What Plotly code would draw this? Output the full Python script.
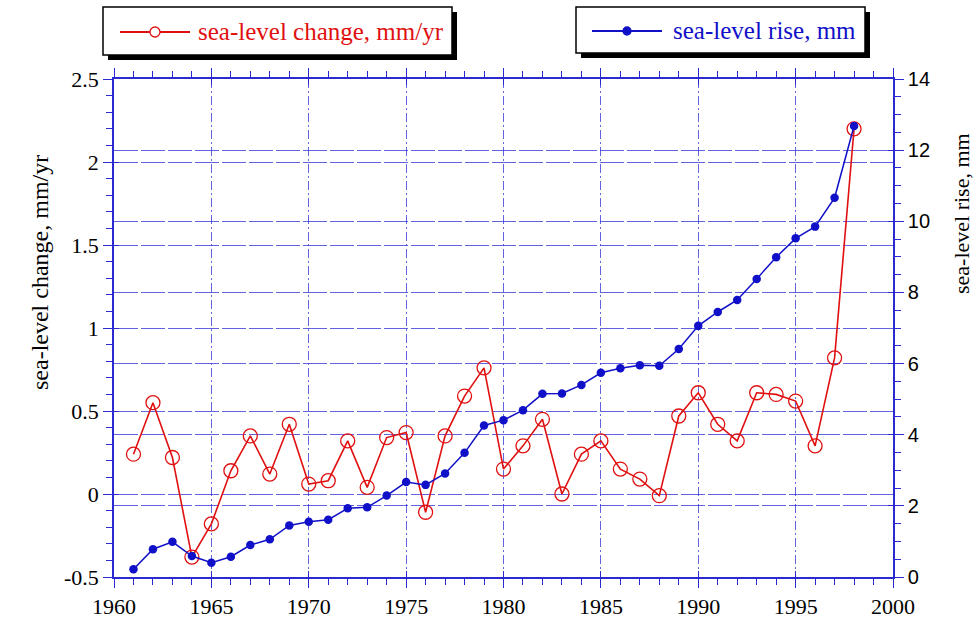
import plotly.graph_objects as go

# ---- data -------------------------------------------------------------
years = list(range(1961, 1999))

change_mm_yr = [0.24, 0.55, 0.22, -0.38, -0.18, 0.14, 0.35, 0.12, 0.42, 0.06,
                0.08, 0.32, 0.04, 0.34, 0.37, -0.11, 0.35, 0.59, 0.76, 0.15,
                0.29, 0.45, 0.00, 0.24, 0.32, 0.15, 0.09, -0.01, 0.47, 0.61,
                0.42, 0.32, 0.61, 0.60, 0.56, 0.29, 0.82, 2.20]

rise_mm = [0.22, 0.78, 0.99, 0.59, 0.40, 0.57, 0.90, 1.06, 1.45, 1.55,
           1.61, 1.93, 1.96, 2.29, 2.67, 2.59, 2.91, 3.49, 4.26, 4.41,
           4.69, 5.15, 5.16, 5.40, 5.74, 5.87, 5.95, 5.94, 6.41, 7.06,
           7.45, 7.79, 8.38, 8.99, 9.52, 9.85, 10.66, 12.68]

x_ticks = [1960, 1965, 1970, 1975, 1980, 1985, 1990, 1995, 2000]
left_ticks = [-0.5, 0, 0.5, 1, 1.5, 2, 2.5]
left_tick_text = ["-0.5", "0", "0.5", "1", "1.5", "2", "2.5"]
right_ticks = [0, 2, 4, 6, 8, 10, 12, 14]

label_change = "sea-level change, mm/yr"
label_rise = "sea-level rise, mm"

X_RANGE = [1960, 2000]
LEFT_RANGE = [-0.5, 2.5]
RIGHT_RANGE = [0, 14]

# ---- styling ----------------------------------------------------------
W, H = 979, 623
L, R, T, B = 114, 86, 79, 46
RED = "#e01010"
BLUE = "#1010c8"
AXIS = "#2a2ad0"
GRID = "rgba(60,60,215,0.8)"
SERIF = "Liberation Serif, Times New Roman, serif"
SANS = "Liberation Sans, Arial, sans-serif"


def px(xp):
    return (xp - L) / (W - L - R)


def py(yp):
    return (H - B - yp) / (H - T - B)


fig = go.Figure()

fig.add_trace(go.Scatter(
    x=years, y=change_mm_yr, name=label_change, mode="lines+markers",
    line=dict(color=RED, width=1.6),
    marker=dict(symbol="circle-open", size=14, color=RED, line=dict(width=1.3)),
    yaxis="y", xaxis="x", showlegend=False, cliponaxis=False,
))

fig.add_trace(go.Scatter(
    x=years, y=rise_mm, name=label_rise, mode="lines+markers",
    line=dict(color=BLUE, width=1.5),
    marker=dict(symbol="circle", size=8.5, color=BLUE),
    yaxis="y2", xaxis="x", showlegend=False, cliponaxis=False,
))

# empty traces carrying the extra tick-only axes
for xa, ya in [("x2", "y"), ("x3", "y"), ("x4", "y"), ("x", "y3"), ("x", "y4")]:
    fig.add_trace(go.Scatter(x=[1960], y=[None], xaxis=xa, yaxis=ya,
                             showlegend=False, hoverinfo="skip"))

tick_common = dict(tickcolor=AXIS, tickwidth=1.3, zeroline=False)
x_common = dict(range=X_RANGE, tickvals=x_ticks, **tick_common)
inner_x = dict(**x_common, overlaying="x", ticks="inside", ticklen=6,
               showticklabels=False, showgrid=False, showline=False)

fig.update_layout(
    width=W, height=H,
    margin=dict(l=L, r=R, t=T, b=B, autoexpand=False),
    paper_bgcolor="white", plot_bgcolor="white",
    xaxis=dict(**x_common, showline=True, linecolor=AXIS, linewidth=1.6,
               ticks="outside", ticklen=9,
               tickfont=dict(family=SERIF, size=22, color="black"),
               showgrid=True, gridcolor=GRID, gridwidth=1.2, griddash="9px,3px,2px,3px",
               minor=dict(dtick=1, tick0=1960, ticks="outside", ticklen=6,
                          tickcolor=AXIS, showgrid=False)),
    xaxis2=dict(**x_common, overlaying="x", side="top", showline=True,
                linecolor=AXIS, linewidth=1.6,
                ticks="outside", ticklen=9, showticklabels=False, showgrid=False,
                minor=dict(dtick=1, tick0=1960, ticks="outside", ticklen=6,
                           tickcolor=AXIS, showgrid=False)),
    xaxis3=dict(**inner_x, side="bottom"),
    xaxis4=dict(**inner_x, side="top"),
    yaxis=dict(range=LEFT_RANGE, tickvals=left_ticks, ticktext=left_tick_text,
               showline=True, linecolor=AXIS, linewidth=1.6, **tick_common,
               ticks="outside", ticklen=9,
               tickfont=dict(family=SERIF, size=22, color="black"),
               showgrid=True, gridcolor=GRID, gridwidth=1.3, griddash="24px,3px",
               minor=dict(dtick=0.1, tick0=-0.5, ticks="outside", ticklen=6,
                          tickcolor=AXIS, showgrid=False)),
    yaxis2=dict(range=RIGHT_RANGE, tickvals=right_ticks, overlaying="y", side="right",
                showline=True, linecolor=AXIS, linewidth=1.6, **tick_common,
                ticks="outside", ticklen=9,
                tickfont=dict(family=SANS, size=20, color="black"),
                showgrid=True, gridcolor=GRID, gridwidth=1.3, griddash="24px,3px",
                minor=dict(dtick=0.5, tick0=0, ticks="outside", ticklen=6,
                           tickcolor=AXIS, showgrid=False)),
    yaxis3=dict(range=LEFT_RANGE, tickvals=left_ticks, overlaying="y", side="left",
                **tick_common, ticks="inside", ticklen=5, showticklabels=False,
                showgrid=False, showline=False),
    yaxis4=dict(range=RIGHT_RANGE, tickvals=right_ticks, overlaying="y", side="right",
                **tick_common, ticks="inside", ticklen=5, showticklabels=False,
                showgrid=False, showline=False),
)

shapes = []
annotations = []


def legend_box(x0, y0, x1, y1, color, text, line_x0, line_x1, text_x, open_marker):
    yc = (y0 + y1) / 2 + 1
    # drop shadow
    shapes.append(dict(type="rect", xref="paper", yref="paper",
                       x0=px(x0 + 5), x1=px(x1 + 5), y0=py(y0 + 5), y1=py(y1 + 5),
                       fillcolor="black", line=dict(width=0), layer="above"))
    shapes.append(dict(type="rect", xref="paper", yref="paper",
                       x0=px(x0), x1=px(x1), y0=py(y0), y1=py(y1),
                       fillcolor="white", line=dict(color="black", width=1.5), layer="above"))
    shapes.append(dict(type="line", xref="paper", yref="paper",
                       x0=px(line_x0), x1=px(line_x1), y0=py(yc), y1=py(yc),
                       line=dict(color=color, width=1.8), layer="above"))
    mx = (line_x0 + line_x1) / 2
    r = 5 if open_marker else 4
    shapes.append(dict(type="circle", xref="paper", yref="paper",
                       x0=px(mx - r), x1=px(mx + r), y0=py(yc - r), y1=py(yc + r),
                       fillcolor="white" if open_marker else color,
                       line=dict(color=color, width=1.3), layer="above"))
    annotations.append(dict(xref="paper", yref="paper", x=px(text_x), y=py(yc),
                            xanchor="left", yanchor="middle", showarrow=False,
                            text=text, font=dict(family=SERIF, size=25, color=color)))


legend_box(103, 7, 452, 55, RED, label_change, 120, 190, 196, True)
legend_box(576, 7, 865, 53, BLUE, label_rise, 592, 662, 671, False)

# axis titles
annotations.append(dict(xref="paper", yref="paper", x=px(40), y=py(273),
                        xanchor="center", yanchor="middle", showarrow=False, textangle=-90,
                        text=label_change, font=dict(family=SERIF, size=24, color="black")))
annotations.append(dict(xref="paper", yref="paper", x=px(961), y=py(213),
                        xanchor="center", yanchor="middle", showarrow=False, textangle=-90,
                        text=label_rise, font=dict(family=SERIF, size=22, color="black")))

fig.update_layout(shapes=shapes, annotations=annotations)

fig.write_html("out.html")
